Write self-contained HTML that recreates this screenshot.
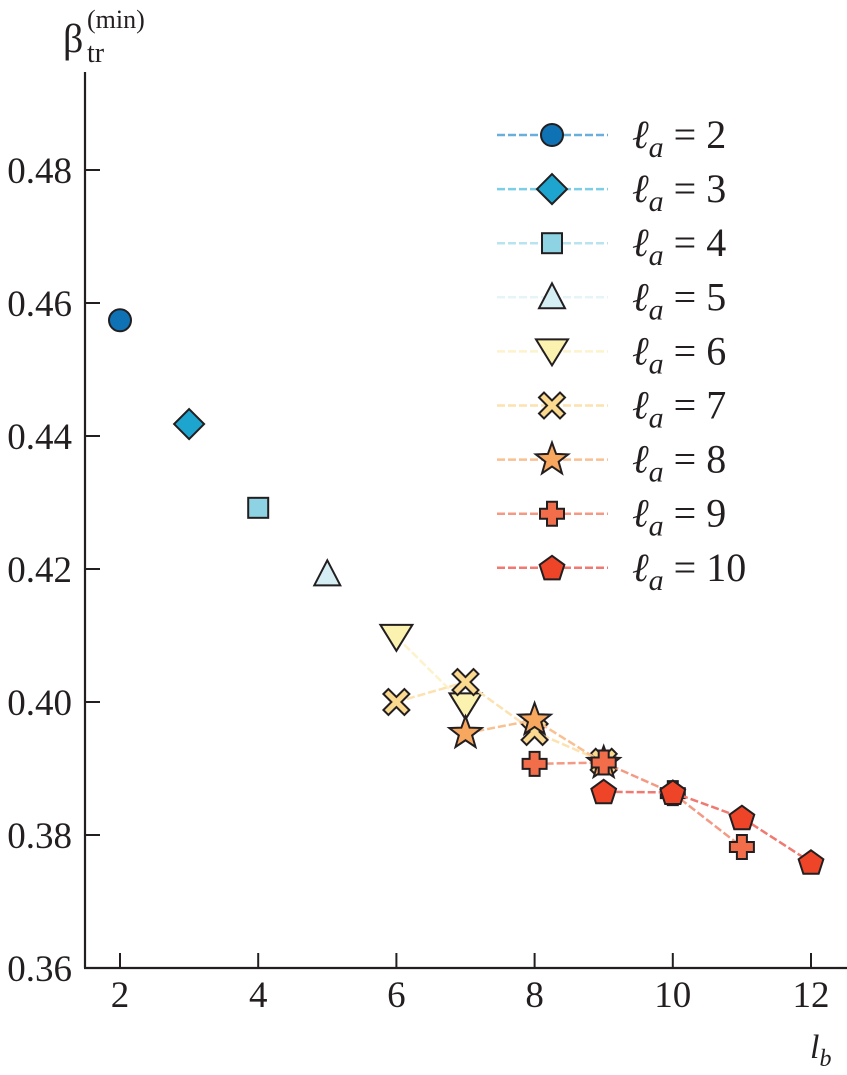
<!DOCTYPE html>
<html><head><meta charset="utf-8"><style>
body{margin:0;background:#fff}
svg{display:block}
text{font-family:"Liberation Serif",serif;fill:#231f20}
</style></head><body>
<svg id="chart" width="847" height="1075" viewBox="0 0 847 1075">
<g id="axes"></g>
<g id="series"></g>
<g id="legend"></g>
<g>
<text x="63" y="52" font-size="40">β</text>
<text x="87" y="62" font-size="28">tr</text>
<text x="87" y="28" font-size="26">(min)</text>
</g>
<text x="810" y="1058" font-size="34" font-style="italic">l<tspan font-size="24" dy="8">b</tspan></text>
</svg>
<script>
const xTicks=[2,4,6,8,10,12];
const yTicks=[0.36,0.38,0.40,0.42,0.44,0.46,0.48];
const seriesLabels=[2,3,4,5,6,7,8,9,10];
const xs2=[2], ys2=[0.4574];
const xs3=[3], ys3=[0.4418];
const xs4=[4], ys4=[0.4292];
const xs5=[5], ys5=[0.4192];
const xs6=[6,7], ys6=[0.4098,0.3995];
const xs7=[6,7,8,9], ys7=[0.4000,0.4030,0.3955,0.3910];
const xs8=[7,8,9], ys8=[0.3953,0.3973,0.3908];
const xs9=[8,9,10,11], ys9=[0.3907,0.3909,0.3863,0.3782];
const xs10=[9,10,11,12], ys10=[0.3865,0.3864,0.3826,0.3759];
const seriesX=[xs2,xs3,xs4,xs5,xs6,xs7,xs8,xs9,xs10];
const seriesY=[ys2,ys3,ys4,ys5,ys6,ys7,ys8,ys9,ys10];
const fills=['#0e72b4','#1ea5cf','#8dd3e4','#d4eef3','#fbf2b0','#fbd98e','#f8a75e','#f26e4a','#ee4528'];
const lines=['#6aaedb','#7ccde6','#b9e4ef','#e4f4f7','#fcf2cc','#fce2b0','#f9c092','#f49a84','#f07a72'];
const shapes=['circle','diamond','square','tri-up','tri-down','x','star','plus','pentagon'];
const NS='http://www.w3.org/2000/svg';
const sx=v=>120+(v-2)*69.1;
const sy=v=>968-(v-0.36)*6650;
function el(t,a,p){const e=document.createElementNS(NS,t);for(const k in a)e.setAttribute(k,a[k]);p.appendChild(e);return e;}
const axes=document.getElementById('axes');
const yAxis=el('line',{x1:85,y1:72,x2:85,y2:968,stroke:'#231f20','stroke-width':2.2},axes);


const xAxis=el('line',{x1:84,y1:968,x2:847,y2:968,stroke:'#231f20','stroke-width':2.2},axes);


yTicks.forEach(v=>{
  const t=el('line',{x1:85,x2:100,y1:sy(v),y2:sy(v),stroke:'#231f20','stroke-width':2},axes);
  
  
  const l=el('text',{x:72,y:sy(v)+13,'font-size':37,'text-anchor':'end'},axes);
  l.textContent=v.toFixed(2);
  
  
});
xTicks.forEach(v=>{
  const t=el('line',{x1:sx(v),x2:sx(v),y1:968,y2:953,stroke:'#231f20','stroke-width':2},axes);
  
  
  const l=el('text',{x:sx(v),y:1007,'font-size':37,'text-anchor':'middle'},axes);
  l.textContent=v;
  
  
});
function marker(shape,x,y,fill,p){
  const a={fill:fill,stroke:'#231f20','stroke-width':2,'stroke-linejoin':'miter'};
  let e,pts;
  const poly=ps=>ps.map(q=>(x+q[0])+','+(y+q[1])).join(' ');
  switch(shape){
   case 'circle':e=el('circle',Object.assign({cx:x,cy:y,r:11},a),p);break;
   case 'diamond':e=el('polygon',Object.assign({points:poly([[0,-15],[15,0],[0,15],[-15,0]])},a),p);break;
   case 'square':e=el('rect',Object.assign({x:x-10,y:y-10,width:20,height:20},a),p);break;
   case 'tri-up':e=el('polygon',Object.assign({points:poly([[0,-14],[13,11],[-13,11]])},a),p);break;
   case 'tri-down':e=el('polygon',Object.assign({points:poly([[0,14],[16,-12],[-16,-12]])},a),p);break;
   case 'x':{const s=5,r=13;e=el('polygon',Object.assign({points:poly([[-r,-r+s],[-r+s,-r],[0,-s],[r-s,-r],[r,-r+s],[s,0],[r,r-s],[r-s,r],[0,s],[-r+s,r],[-r,r-s],[-s,0]])},a),p);break;}
   case 'star':{pts=[];for(let i=0;i<10;i++){const rr=i%2?7:17,an=-Math.PI/2+i*Math.PI/5;pts.push([rr*Math.cos(an),rr*Math.sin(an)]);}e=el('polygon',Object.assign({points:poly(pts)},a),p);break;}
   case 'plus':{const w=5,r=12;e=el('polygon',Object.assign({points:poly([[-w,-r],[w,-r],[w,-w],[r,-w],[r,w],[w,w],[w,r],[-w,r],[-w,w],[-r,w],[-r,-w],[-w,-w]])},a),p);break;}
   case 'pentagon':{pts=[];for(let i=0;i<5;i++){const an=-Math.PI/2+i*2*Math.PI/5;pts.push([13*Math.cos(an),13*Math.sin(an)+1]);}e=el('polygon',Object.assign({points:poly(pts)},a),p);break;}
  }
  return e;
}
const sg=document.getElementById('series');
seriesX.forEach((xsArr,i)=>{
  const g=el('g',{},sg);
  
  
  if(xsArr.length>1){
    const pl=el('polyline',{points:xsArr.map((x,j)=>sx(x)+','+sy(seriesY[i][j])).join(' '),fill:'none',stroke:lines[i],'stroke-width':2.5,'stroke-dasharray':'8,3'},g);
    
    
  }
  xsArr.forEach((x,j)=>{
    const m=marker(shapes[i],sx(x),sy(seriesY[i][j]),fills[i],g);
    
    
  });
});
const lg=document.getElementById('legend');
seriesLabels.forEach((n,i)=>{
  const y=135+i*54.1;
  const g=el('g',{},lg);
  
  
  el('line',{x1:497,x2:608,y1:y,y2:y,stroke:lines[i],'stroke-width':2.5,'stroke-dasharray':'8,3'},g);
  marker(shapes[i],552,y,fills[i],g);
  const t=el('text',{x:632,y:y+13,'font-size':40},g);
  t.innerHTML='<tspan font-style="italic">ℓ</tspan><tspan font-style="italic" font-size="30" dy="9">a</tspan><tspan dy="-9"> = '+n+'</tspan>';
});
</script>
</body></html>
